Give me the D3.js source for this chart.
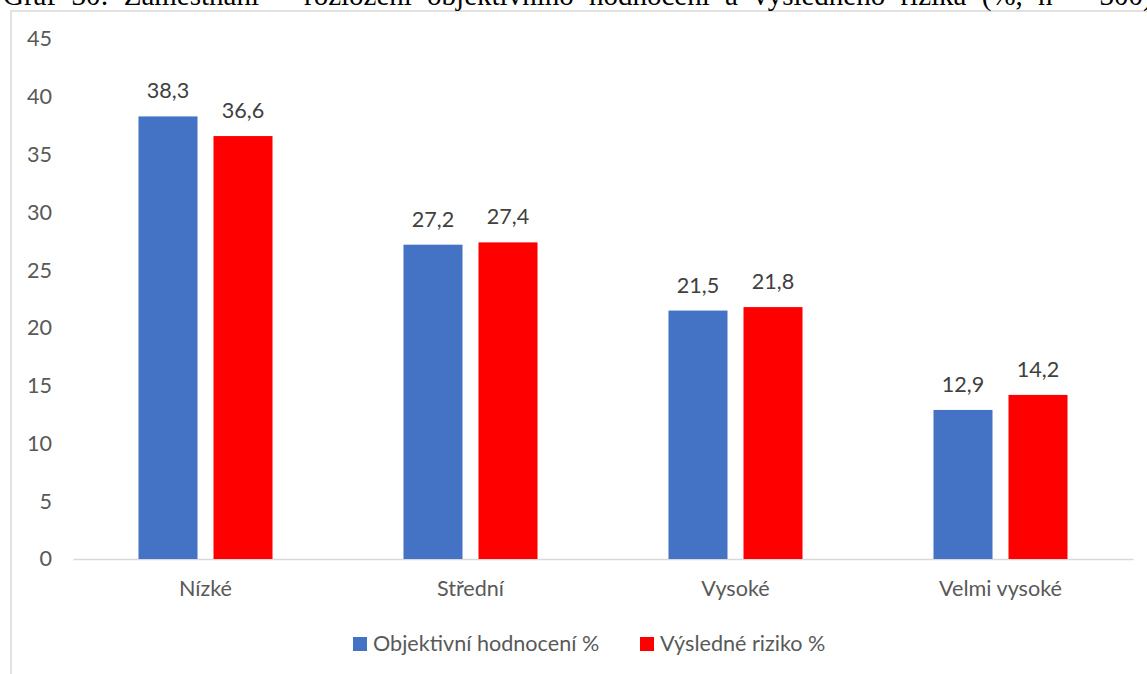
<!DOCTYPE html>
<html>
<head>
<meta charset="utf-8">
<script src="https://cdn.jsdelivr.net/npm/d3@7"></script>
<style>
  html, body { margin: 0; padding: 0; background: #fff; overflow: hidden; }
  svg { display: block; }
</style>
</head>
<body>
<svg id="chart"></svg>
<script>
(function(){

    var categories = ["Nízké", "Střední", "Vysoké", "Velmi vysoké"];
    var series = ["Objektivní hodnocení %", "Výsledné riziko %"];
    var objektivni = [38.3, 27.2, 21.5, 12.9];
    var vysledne = [36.6, 27.4, 21.8, 14.2];
    var yTicks = [0, 5, 10, 15, 20, 25, 30, 35, 40, 45];
    var colors = ["#4472C4", "#FF0000"];
    var title = "Graf 30: Zaměstnání – rozložení objektivního hodnocení a výsledného rizika (%, n = 300)";

    var width = 1147;
    var height = 674;

    var svg = d3.select("svg#chart")
        .attr("width", width)
        .attr("height", height);

    // chart area border (only left and top visible in the crop)
    svg.append("path")
        .attr("d", "M11,674 V11 H1147")
        .attr("fill", "none")
        .attr("stroke", "#d9d9d9")
        .attr("stroke-width", 1.5);

    // document caption, cut at the top like in the source page
    svg.append("text")
        .attr("x", 3)
        .attr("y", 5)
        .attr("font-family", "Liberation Serif, Times New Roman, serif")
        .attr("font-size", "29px")
        .attr("word-spacing", "8px")
        .attr("fill", "#000")
        .text(title);

    let yScale = d3.scaleLinear()
        .domain([0, 45])
        .range([559, 39])

    let xScale = d3.scaleBand()
        .domain(categories)
        .range([73, 1133])
        .padding(0)

    let xInner = d3.scaleBand()
        .domain(series)
        .range([0, xScale.bandwidth()])
        .paddingInner(0.2133)
        .paddingOuter(0.873)

    let font = "Lato, Carlito, Calibri, sans-serif";
    let fontSize = "21.6px";

    // y axis
    let yAxis = svg.append("g")
        .attr("transform", "translate(52,0)")
        .call(d3.axisLeft(yScale).tickValues(yTicks).tickSize(0).tickPadding(0))
    yAxis.select(".domain").remove()
    yAxis.selectAll("text")
        .attr("font-family", font)
        .attr("font-size", fontSize)
        .attr("fill", "#595959")

    // x axis
    let xAxis = svg.append("g")
        .attr("transform", "translate(0," + yScale(0) + ")")
        .call(d3.axisBottom(xScale).tickSize(0).tickPadding(22))
    xAxis.select(".domain")
        .attr("stroke", "#d9d9d9")
        .attr("stroke-width", 1.5)
    xAxis.selectAll("text")
        .attr("font-family", font)
        .attr("font-size", fontSize)
        .attr("fill", "#595959")

    let data = categories.map((c, i) => ({
        category: c,
        values: [
            {key: series[0], value: objektivni[i]},
            {key: series[1], value: vysledne[i]}
        ]
    }))

    let groups = svg.selectAll("g.group")
        .data(data)
        .enter()
        .append("g")
        .attr("class", "group")
        .attr("transform", d => "translate(" + xScale(d.category) + ",0)")

    groups.selectAll("rect")
        .data(d => d.values)
        .enter()
        .append("rect")
            .attr("x", d => xInner(d.key))
            .attr("y", d => yScale(d.value))
            .attr("width", xInner.bandwidth())
            .attr("height", d => yScale(0) - yScale(d.value))
            .attr("fill", (d, i) => colors[i])

    groups.selectAll("text.label")
        .data(d => d.values)
        .enter()
        .append("text")
            .attr("class", "label")
            .attr("x", d => xInner(d.key) + xInner.bandwidth() / 2)
            .attr("y", d => yScale(d.value) - 18)
            .attr("text-anchor", "middle")
            .attr("font-family", font)
            .attr("font-size", fontSize)
            .attr("fill", "#404040")
            .text(d => d.value.toFixed(1).replace(".", ","))

    // legend
    let legendX = [353, 640];
    let legend = svg.selectAll("g.legend")
        .data(series)
        .enter()
        .append("g")
        .attr("class", "legend")
        .attr("transform", (d, i) => "translate(" + legendX[i] + ",637)")
    legend.append("rect")
        .attr("width", 14)
        .attr("height", 14)
        .attr("fill", (d, i) => colors[i])
    legend.append("text")
        .attr("x", 20)
        .attr("y", 14)
        .attr("font-family", font)
        .attr("font-size", fontSize)
        .attr("fill", "#595959")
        .text(d => d)

})()
</script>
</body>
</html>
